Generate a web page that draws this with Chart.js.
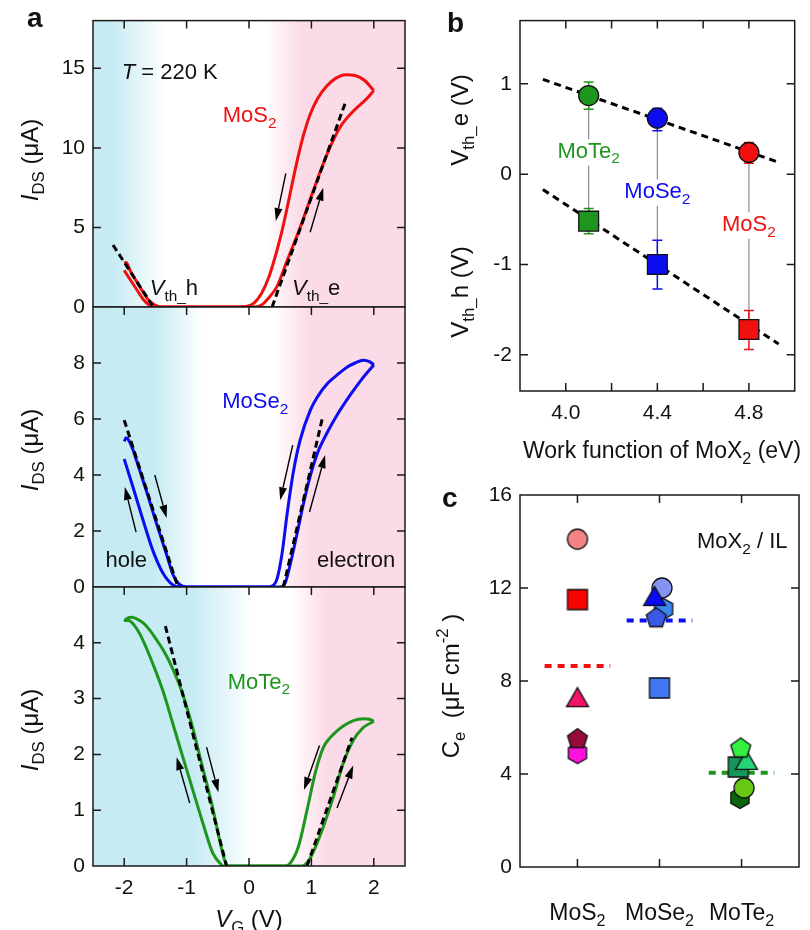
<!DOCTYPE html>
<html>
<head>
<meta charset="utf-8">
<script src="https://cdn.jsdelivr.net/npm/chart.js@4.4.1/dist/chart.umd.min.js"></script>
<style>
  html, body { margin: 0; padding: 0; background: #fff; }
  #wrap { position: relative; width: 810px; height: 930px; overflow: hidden; }
  #wrap canvas { position: absolute; left: 0; top: 0; }
</style>
</head>
<body>
<div id="wrap">
  <canvas id="a1" width="810" height="930"></canvas>
  <canvas id="a2" width="810" height="930"></canvas>
  <canvas id="a3" width="810" height="930"></canvas>
  <canvas id="b" width="810" height="930"></canvas>
  <canvas id="c" width="810" height="930"></canvas>
</div>
<script>
// ---------- panel a: transfer curves [V_G (V), I_DS (uA)] ----------
const VG_TICKS = [-2, -1, 0, 1, 2];

// forward sweep -2 -> +2, backward sweep +2 -> -2
const MOS2_FWD = [[-2.0, 2.75], [-1.97, 2.8], [-1.9, 2.25], [-1.8, 1.6], [-1.7, 0.95], [-1.6, 0.4], [-1.5, 0.1], [-1.4, 0],
  [0.1, 0], [0.2, 0.12], [0.3, 0.5], [0.45, 1.3], [0.61, 2.9], [0.82, 5.0], [1.03, 7.3], [1.25, 9.6], [1.46, 11.3],
  [1.67, 12.3], [1.89, 13.1], [2.0, 13.6]];
const MOS2_BWD = [[2.0, 13.6], [1.85, 14.25], [1.7, 14.55], [1.55, 14.6], [1.4, 14.4], [1.25, 13.9], [1.1, 13.1],
  [0.98, 12.1], [0.88, 10.9], [0.79, 9.5], [0.7, 7.9], [0.62, 6.4], [0.53, 4.8], [0.43, 3.3], [0.32, 1.9], [0.2, 0.85],
  [0.08, 0.25], [-0.05, 0.03], [-0.2, 0], [-1.5, 0], [-1.6, 0.12], [-1.7, 0.5], [-1.8, 1.1], [-1.9, 1.7], [-2.0, 2.3]];
const MOS2_FIT_H = [[-2.18, 3.9], [-1.55, 0.1]];
const MOS2_FIT_E = [[0.37, 0], [1.54, 12.8]];
const MOS2_ARROWS = [[0.59, 8.4, 0.43, 5.4], [0.98, 4.7, 1.19, 7.5]];

const MOSE2_FWD = [[-2.0, 5.2], [-1.97, 5.33], [-1.93, 5.25], [-1.86, 4.9], [-1.8, 4.5], [-1.64, 3.4], [-1.48, 2.25],
  [-1.32, 1.15], [-1.22, 0.45], [-1.12, 0.1], [-1.0, 0], [0.5, 0], [0.58, 0.15], [0.66, 0.8], [0.77, 1.9], [0.87, 2.95],
  [0.98, 3.95], [1.1, 4.8], [1.25, 5.5], [1.4, 6.1], [1.62, 6.85], [1.8, 7.4], [2.0, 7.93]];
const MOSE2_BWD = [[2.0, 7.93], [1.93, 8.05], [1.83, 8.1], [1.7, 8.0], [1.57, 7.85], [1.4, 7.55], [1.25, 7.25],
  [1.1, 6.8], [0.98, 6.3], [0.82, 5.25], [0.71, 4.1], [0.61, 2.6], [0.53, 1.2], [0.45, 0.3], [0.37, 0.03], [0.3, 0],
  [-1.12, 0], [-1.22, 0.07], [-1.38, 0.5], [-1.54, 1.3], [-1.7, 2.4], [-1.86, 3.57], [-2.0, 4.57]];
const MOSE2_FIT_H = [[-2.0, 5.96], [-1.14, 0]];
const MOSE2_FIT_E = [[0.55, 0], [1.18, 6.07]];
const MOSE2_ARROWS = [[-1.81, 1.96, -1.99, 3.57], [-1.51, 4.0, -1.32, 2.46], [0.70, 5.07, 0.50, 3.1], [0.97, 2.68, 1.22, 4.71]];

const MOTE2_FWD = [[-2.0, 4.39], [-1.95, 4.44], [-1.88, 4.46], [-1.8, 4.43], [-1.7, 4.36], [-1.6, 4.24], [-1.48, 4.05],
  [-1.38, 3.88], [-1.27, 3.65], [-1.08, 3.14], [-0.92, 2.55], [-0.76, 1.84], [-0.6, 1.13], [-0.47, 0.46], [-0.39, 0.1],
  [-0.33, 0], [0.85, 0], [0.93, 0.06], [1.03, 0.25], [1.19, 0.7], [1.35, 1.23], [1.51, 1.84], [1.67, 2.25], [1.83, 2.48], [2.0, 2.59]];
const MOTE2_BWD = [[2.0, 2.59], [1.93, 2.63], [1.86, 2.64], [1.75, 2.63], [1.62, 2.58], [1.5, 2.5], [1.41, 2.42], [1.3, 2.3],
  [1.19, 2.12], [1.06, 1.66], [0.93, 1.0], [0.79, 0.34], [0.66, 0.05], [0.58, 0], [-0.42, 0], [-0.44, 0.02], [-0.58, 0.23],
  [-0.74, 0.77], [-0.9, 1.36], [-1.06, 1.95], [-1.22, 2.55], [-1.38, 3.14], [-1.54, 3.62], [-1.65, 3.92], [-1.75, 4.16],
  [-1.85, 4.33], [-1.93, 4.4], [-2.0, 4.4]];
const MOTE2_FIT_H = [[-1.34, 4.3], [-0.36, 0]];
const MOTE2_FIT_E = [[0.93, 0], [1.65, 2.3]];
const MOTE2_ARROWS = [[-0.95, 1.13, -1.16, 1.95], [-0.68, 2.13, -0.49, 1.32], [1.13, 2.16, 0.88, 1.36], [1.41, 1.04, 1.67, 1.8]];

// ---------- panel b: threshold voltage vs work function ----------
const WF = [4.1, 4.4, 4.8];                 // MoTe2, MoSe2, MoS2
const WF_NAMES = ['MoTe', 'MoSe', 'MoS'];
const VTH_E = [0.87, 0.62, 0.24];
const VTH_E_HI = [1.02, 0.73, 0.35];
const VTH_E_LO = [0.72, 0.48, 0.12];
const VTH_H = [-0.52, -1.0, -1.72];
const VTH_H_HI = [-0.38, -0.73, -1.51];
const VTH_H_LO = [-0.66, -1.27, -1.94];
const FIT_E = [[3.9, 1.05], [4.92, 0.14]];
const FIT_H = [[3.9, -0.17], [4.93, -1.88]];
const WF_TICKS = [4.0, 4.2, 4.4, 4.6, 4.8];
const WF_LABELED = [4.0, 4.4, 4.8];
const VTH_TICKS = [-2, -1, 0, 1];

// ---------- panel c: capacitance ----------
const MATERIALS = ['MoS', 'MoSe', 'MoTe'];
const CE_MOS2 = [14.1, 11.5, 7.3, 4.9, 5.5];
const CE_MOS2_DX = [0, 0, 0, 0, 0];
const CE_MOSE2 = [12.0, 11.1, 10.7, 11.65, 7.7];
const CE_MOSE2_DX = [0.03, 0.05, -0.04, -0.06, 0];
const CE_MOTE2 = [2.97, 3.4, 4.3, 4.6, 5.1];
const CE_MOTE2_DX = [-0.02, 0.03, -0.04, 0.06, -0.01];
const CE_MEAN = [8.65, 10.6, 4.05];
const CE_TICKS = [0, 4, 8, 12, 16];

// styles
const RED = '#f01010', BLUE = '#0c0cf0', GREEN = '#1e961e';
const CYAN = 'rgb(198,235,243)', PINK = 'rgb(251,219,231)', WHITE = '#ffffff';
const MOS2_SHAPES = ['circle', 'square', 'triangle', 'hexagon', 'pentagon'];
const MOS2_COLORS = ['#f58383', '#ff0000', '#f0146a', '#ff12dc', '#960a3c'];
const MOSE2_SHAPES = ['circle', 'hexagon', 'pentagon', 'triangle', 'square'];
const MOSE2_COLORS = ['#8494f2', '#3c86f2', '#3a58e8', '#0a0af5', '#3f78f2'];
const MOTE2_SHAPES = ['hexagon', 'circle', 'square', 'triangle', 'pentagon'];
const MOTE2_COLORS = ['#0a640a', '#66c814', '#14965a', '#28d278', '#36f040'];

const FONT = '"Liberation Sans", Arial, Helvetica, sans-serif';
const W = 810, H = 930;
Chart.defaults.font.family = FONT;
Chart.defaults.color = '#111';

const pts = a => a.map(([x, y]) => ({ x, y }));

function drawRich(ctx, parts, x, y, o) {
  const size = o.size || 22, small = size * 0.7;
  ctx.save();
  ctx.translate(x, y);
  if (o.rot) ctx.rotate(-Math.PI / 2);
  ctx.textBaseline = 'alphabetic';
  ctx.textAlign = 'left';
  const segs = parts.map(([s, k]) => {
    const sm = k === 'sub' || k === 'sup';
    const font = (k === 'i' ? 'italic ' : '') + (o.bold ? 'bold ' : '') + (sm ? small : size) + 'px ' + FONT;
    ctx.font = font;
    return { s, font, w: ctx.measureText(s).width, dy: k === 'sub' ? size * 0.25 : k === 'sup' ? -size * 0.45 : 0 };
  });
  const total = segs.reduce((a, g) => a + g.w, 0);
  let cx = o.align === 'center' ? -total / 2 : o.align === 'right' ? -total : 0;
  if (o.bg) {
    ctx.fillStyle = '#fff';
    ctx.fillRect(cx - 2, -size * 0.85, total + 4, size * 1.2);
  }
  ctx.fillStyle = o.color || '#111';
  segs.forEach(g => { ctx.font = g.font; ctx.fillText(g.s, cx, g.dy); cx += g.w; });
  ctx.restore();
}

function textPlugin(items) {
  const draw = (chart, list) => {
    const { x, y } = chart.scales;
    list.forEach(t => {
      const px = t.at === 'data' || t.at === 'xdata' ? x.getPixelForValue(t.x) : t.x;
      const py = t.at === 'data' ? y.getPixelForValue(t.y) : t.y;
      drawRich(chart.ctx, t.parts, px, py, t);
    });
  };
  return {
    id: 'texts',
    beforeDatasetsDraw(chart) { draw(chart, items.filter(t => t.under)); },
    afterDraw(chart) { draw(chart, items.filter(t => !t.under)); }
  };
}

function bandPlugin(stops) {
  return {
    id: 'band',
    beforeDraw(chart) {
      const { ctx, chartArea: a, scales: { x } } = chart;
      const g = ctx.createLinearGradient(a.left, 0, a.right, 0);
      stops.forEach(([v, c]) => g.addColorStop(Math.min(1, Math.max(0, (x.getPixelForValue(v) - a.left) / a.width)), c));
      ctx.save();
      ctx.fillStyle = g;
      ctx.fillRect(a.left, a.top, a.width, a.height);
      ctx.restore();
    }
  };
}

function framePlugin(sides) {
  return {
    id: 'frame',
    afterDatasetsDraw(chart) {
      const { ctx, chartArea: a, scales: { x, y } } = chart;
      const T = 8;
      ctx.save();
      ctx.strokeStyle = '#1a1a1a';
      ctx.lineWidth = 1.5;
      ctx.strokeRect(a.left, a.top, a.width, a.height);
      ctx.beginPath();
      x.ticks.forEach(t => {
        const p = x.getPixelForValue(t.value);
        if (p < a.left + 2 || p > a.right - 2) return;
        if (sides.top) { ctx.moveTo(p, a.top); ctx.lineTo(p, a.top + T); }
        if (sides.bottom) { ctx.moveTo(p, a.bottom); ctx.lineTo(p, a.bottom - T); }
      });
      y.ticks.forEach(t => {
        const p = y.getPixelForValue(t.value);
        if (p < a.top + 2 || p > a.bottom - 2) return;
        ctx.moveTo(a.left, p); ctx.lineTo(a.left + T, p);
        ctx.moveTo(a.right, p); ctx.lineTo(a.right - T, p);
      });
      ctx.stroke();
      ctx.restore();
    }
  };
}

function arrowPlugin(list) {
  return {
    id: 'arrows',
    afterDatasetsDraw(chart) {
      const { ctx, scales: { x, y } } = chart;
      ctx.save();
      ctx.strokeStyle = '#000';
      ctx.fillStyle = '#000';
      ctx.lineWidth = 1.4;
      list.forEach(([x1, y1, x2, y2]) => {
        const ax = x.getPixelForValue(x1), ay = y.getPixelForValue(y1);
        const bx = x.getPixelForValue(x2), by = y.getPixelForValue(y2);
        const ang = Math.atan2(by - ay, bx - ax), L = 13, hw = 4;
        const hx = bx - L * Math.cos(ang), hy = by - L * Math.sin(ang);
        ctx.beginPath(); ctx.moveTo(ax, ay); ctx.lineTo(hx, hy); ctx.stroke();
        ctx.beginPath();
        ctx.moveTo(bx, by);
        ctx.lineTo(hx + hw * Math.sin(ang), hy - hw * Math.cos(ang));
        ctx.lineTo(hx - hw * Math.sin(ang), hy + hw * Math.cos(ang));
        ctx.closePath(); ctx.fill();
      });
      ctx.restore();
    }
  };
}

// connectors + error bars for panel b
function linkPlugin() {
  return {
    id: 'links',
    beforeDatasetsDraw(chart) {
      const { ctx, scales: { x, y } } = chart;
      ctx.save();
      ctx.strokeStyle = '#8a8a8a';
      ctx.lineWidth = 1.2;
      WF.forEach((w, i) => {
        const px = x.getPixelForValue(w);
        ctx.beginPath();
        ctx.moveTo(px, y.getPixelForValue(VTH_E[i]));
        ctx.lineTo(px, y.getPixelForValue(VTH_H[i]));
        ctx.stroke();
      });
      ctx.lineWidth = 1.5;
      WF.forEach((w, i) => {
        const px = x.getPixelForValue(w);
        ctx.strokeStyle = [GREEN, BLUE, RED][i];
        [[VTH_E_LO[i], VTH_E_HI[i]], [VTH_H_LO[i], VTH_H_HI[i]]].forEach(([lo, hi]) => {
          const p1 = y.getPixelForValue(lo), p2 = y.getPixelForValue(hi);
          ctx.beginPath();
          ctx.moveTo(px, p1); ctx.lineTo(px, p2);
          ctx.moveTo(px - 5, p1); ctx.lineTo(px + 5, p1);
          ctx.moveTo(px - 5, p2); ctx.lineTo(px + 5, p2);
          ctx.stroke();
        });
      });
      ctx.restore();
    }
  };
}

function marker(shape, fill) {
  const c = document.createElement('canvas');
  const s = 28, m = s / 2;
  c.width = s; c.height = s;
  const g = c.getContext('2d');
  g.beginPath();
  if (shape === 'circle') g.arc(m, m, 10, 0, 2 * Math.PI);
  else if (shape === 'square') g.rect(m - 10, m - 10, 20, 20);
  else {
    const n = shape === 'triangle' ? 3 : shape === 'pentagon' ? 5 : 6;
    const R = shape === 'triangle' ? 12.7 : 10.5;
    const cy = shape === 'triangle' ? m + 3 : m;
    for (let i = 0; i < n; i++) {
      const a = -Math.PI / 2 + i * 2 * Math.PI / n;
      const px = m + R * Math.cos(a), py = cy + R * Math.sin(a);
      if (i === 0) g.moveTo(px, py); else g.lineTo(px, py);
    }
    g.closePath();
  }
  g.fillStyle = fill;
  g.fill();
  g.lineWidth = 1.3;
  g.strokeStyle = '#111';
  g.stroke();
  return c;
}

function makeChart(id, cfg) {
  const box = cfg.box, yW = 50, xH = cfg.xH || 0;
  return new Chart(document.getElementById(id), {
    type: 'scatter',
    data: { datasets: cfg.datasets },
    plugins: cfg.plugins,
    options: {
      responsive: false,
      animation: false,
      events: [],
      layout: { padding: { left: box.l - yW, top: box.t, right: W - box.r, bottom: H - box.b - xH } },
      plugins: { legend: { display: false }, tooltip: { enabled: false } },
      scales: {
        x: {
          type: 'linear', min: cfg.x.min, max: cfg.x.max,
          grid: { display: false, drawTicks: false }, border: { display: false },
          ticks: { display: !!cfg.x.label, padding: 10, autoSkip: false, maxRotation: 0, font: { size: 21 },
            callback: cfg.x.label || (v => v) },
          afterBuildTicks: s => { s.ticks = cfg.x.ticks.map(v => ({ value: v })); },
          afterFit: s => { s.height = xH; }
        },
        y: {
          type: 'linear', min: cfg.y.min, max: cfg.y.max,
          grid: { display: false, drawTicks: false }, border: { display: false },
          ticks: { padding: 8, autoSkip: false, font: { size: 21 }, callback: v => String(v) },
          afterBuildTicks: s => { s.ticks = cfg.y.ticks.map(v => ({ value: v })); },
          afterFit: s => { s.width = yW; }
        }
      }
    }
  });
}

const curve = (d, color) => ({ data: pts(d), showLine: true, borderColor: color, borderWidth: 3, pointRadius: 0,
  cubicInterpolationMode: 'monotone', order: 2 });
const fitLine = (d, w, dash) => ({ data: pts(d), showLine: true, borderColor: '#000', borderWidth: w || 3,
  borderDash: dash || [7, 4], pointRadius: 0, order: 1 });

const ytitleA = [['I', 'i'], ['DS', 'sub'], [' (μA)', 'n']];

// ---- a (top): MoS2 ----
makeChart('a1', {
  box: { l: 93, t: 19, r: 405, b: 307 },
  x: { min: -2.5, max: 2.5, ticks: VG_TICKS },
  y: { min: 0, max: 18, ticks: [0, 5, 10, 15] },
  datasets: [curve(MOS2_FWD, RED), curve(MOS2_BWD, RED), fitLine(MOS2_FIT_H), fitLine(MOS2_FIT_E)],
  plugins: [
    bandPlugin([[-2.5, CYAN], [-2.2, CYAN], [-1.35, WHITE], [0.27, WHITE], [0.82, PINK], [2.5, PINK]]),
    framePlugin({ top: true }),
    arrowPlugin(MOS2_ARROWS),
    textPlugin([
      { parts: [['a', 'n']], x: 27, y: 27, size: 28, bold: true },
      { parts: ytitleA, x: 38, y: 160, rot: true, align: 'center', size: 24 },
      { parts: [['T', 'i'], [' = 220 K', 'n']], at: 'data', x: -2.04, y: 14.3 },
      { parts: [['MoS', 'n'], ['2', 'sub']], at: 'data', x: -0.42, y: 11.6, color: RED },
      { parts: [['V', 'i'], ['th_', 'sub'], ['h', 'n']], at: 'data', x: -1.59, y: 0.75 },
      { parts: [['V', 'i'], ['th_', 'sub'], ['e', 'n']], at: 'data', x: 0.69, y: 0.75 }
    ])
  ]
});

// ---- a (middle): MoSe2 ----
makeChart('a2', {
  box: { l: 93, t: 307, r: 405, b: 587 },
  x: { min: -2.5, max: 2.5, ticks: VG_TICKS },
  y: { min: 0, max: 10, ticks: [0, 2, 4, 6, 8] },
  datasets: [curve(MOSE2_FWD, BLUE), curve(MOSE2_BWD, BLUE), fitLine(MOSE2_FIT_H), fitLine(MOSE2_FIT_E)],
  plugins: [
    bandPlugin([[-2.5, CYAN], [-1.5, CYAN], [-0.75, WHITE], [0.4, WHITE], [0.95, PINK], [2.5, PINK]]),
    framePlugin({ top: true }),
    arrowPlugin(MOSE2_ARROWS),
    textPlugin([
      { parts: ytitleA, x: 38, y: 450, rot: true, align: 'center', size: 24 },
      { parts: [['MoSe', 'n'], ['2', 'sub']], at: 'data', x: -0.43, y: 6.39, color: BLUE },
      { parts: [['hole', 'n']], at: 'data', x: -2.3, y: 0.71 },
      { parts: [['electron', 'n']], at: 'data', x: 1.09, y: 0.71 }
    ])
  ]
});

// ---- a (bottom): MoTe2 ----
makeChart('a3', {
  box: { l: 93, t: 587, r: 405, b: 866 },
  xH: 40,
  x: { min: -2.5, max: 2.5, ticks: VG_TICKS, label: v => String(v) },
  y: { min: 0, max: 5, ticks: [0, 1, 2, 3, 4] },
  datasets: [curve(MOTE2_FWD, GREEN), curve(MOTE2_BWD, GREEN), fitLine(MOTE2_FIT_H), fitLine(MOTE2_FIT_E)],
  plugins: [
    bandPlugin([[-2.5, CYAN], [-0.9, CYAN], [0.05, WHITE], [0.66, WHITE], [1.24, PINK], [2.5, PINK]]),
    framePlugin({ top: true, bottom: true }),
    arrowPlugin(MOTE2_ARROWS),
    textPlugin([
      { parts: ytitleA, x: 38, y: 730, rot: true, align: 'center', size: 24 },
      { parts: [['MoTe', 'n'], ['2', 'sub']], at: 'data', x: -0.34, y: 3.18, color: GREEN },
      { parts: [['V', 'i'], ['G', 'sub'], [' (V)', 'n']], at: 'xdata', x: 0, y: 927, align: 'center', size: 24 }
    ])
  ]
});

// ---- b ----
const WF_COLORS = [GREEN, BLUE, RED];
makeChart('b', {
  box: { l: 520, t: 19, r: 806, b: 391 },
  xH: 40,
  x: { min: 3.8, max: 5.0, ticks: WF_TICKS, label: v => WF_LABELED.includes(v) ? v.toFixed(1) : '' },
  y: { min: -2.4, max: 1.7, ticks: VTH_TICKS },
  datasets: [
    { data: WF.map((w, i) => ({ x: w, y: VTH_E[i] })), pointStyle: 'circle', pointRadius: 10,
      pointBackgroundColor: WF_COLORS, pointBorderColor: '#111', pointBorderWidth: 1.3, order: 1 },
    { data: WF.map((w, i) => ({ x: w, y: VTH_H[i] })), pointStyle: 'rect', pointRadius: 14,
      pointBackgroundColor: WF_COLORS, pointBorderColor: '#111', pointBorderWidth: 1.3, order: 1 },
    Object.assign(fitLine(FIT_E, 3, [7, 5]), { order: 3 }),
    Object.assign(fitLine(FIT_H, 3, [7, 5]), { order: 3 })
  ],
  plugins: [
    framePlugin({ top: true, bottom: true }),
    linkPlugin(),
    textPlugin([
      { parts: [['b', 'n']], x: 447, y: 32, size: 28, bold: true },
      { parts: [['V', 'n'], ['th_', 'sub'], ['e (V)', 'n']], x: 468, y: 120, rot: true, align: 'center', size: 24 },
      { parts: [['V', 'n'], ['th_', 'sub'], ['h (V)', 'n']], x: 468, y: 292, rot: true, align: 'center', size: 24 },
      { parts: [['Work function of MoX', 'n'], ['2', 'sub'], [' (eV)', 'n']], x: 662, y: 458, align: 'center', size: 23 },
      ...WF.map((w, i) => ({ parts: [[WF_NAMES[i], 'n'], ['2', 'sub']], at: 'data', x: w, y: [0.18, -0.265, -0.63][i],
        align: 'center', color: WF_COLORS[i], under: true, bg: true }))
    ])
  ]
});

// ---- c ----
function ceSet(idx, vals, dx, shapes, colors) {
  return { data: vals.map((v, i) => ({ x: idx + dx[i], y: v })), pointRadius: 10,
    pointStyle: shapes.map((s, i) => marker(s, colors[i])), order: 1 };
}
const meanLine = (idx, v, color) => ({ data: [{ x: idx - 0.4, y: v }, { x: idx + 0.4, y: v }], showLine: true,
  borderColor: color, borderWidth: 4, borderDash: [7, 6], pointRadius: 0, order: 2 });

makeChart('c', {
  box: { l: 520, t: 495, r: 806, b: 867 },
  x: { min: -0.7, max: 2.7, ticks: [0, 1, 2] },
  y: { min: 0, max: 16, ticks: CE_TICKS },
  datasets: [
    meanLine(0, CE_MEAN[0], RED), meanLine(1, CE_MEAN[1], BLUE), meanLine(2, CE_MEAN[2], GREEN),
    ceSet(0, CE_MOS2, CE_MOS2_DX, MOS2_SHAPES, MOS2_COLORS),
    ceSet(1, CE_MOSE2, CE_MOSE2_DX, MOSE2_SHAPES, MOSE2_COLORS),
    ceSet(2, CE_MOTE2, CE_MOTE2_DX, MOTE2_SHAPES, MOTE2_COLORS)
  ],
  plugins: [
    framePlugin({ top: true, bottom: true }),
    textPlugin([
      { parts: [['c', 'n']], x: 442, y: 507, size: 28, bold: true },
      { parts: [['C', 'n'], ['e', 'sub'], ['  (μF cm', 'n'], ['-2', 'sup'], [' )', 'n']], x: 459, y: 686, rot: true, align: 'center', size: 24 },
      { parts: [['MoX', 'n'], ['2', 'sub'], [' / IL', 'n']], x: 697, y: 548 },
      ...MATERIALS.map((m, i) => ({ parts: [[m, 'n'], ['2', 'sub']], at: 'xdata', x: i, y: 920, align: 'center', size: 23 }))
    ])
  ]
});
</script>
</body>
</html>
